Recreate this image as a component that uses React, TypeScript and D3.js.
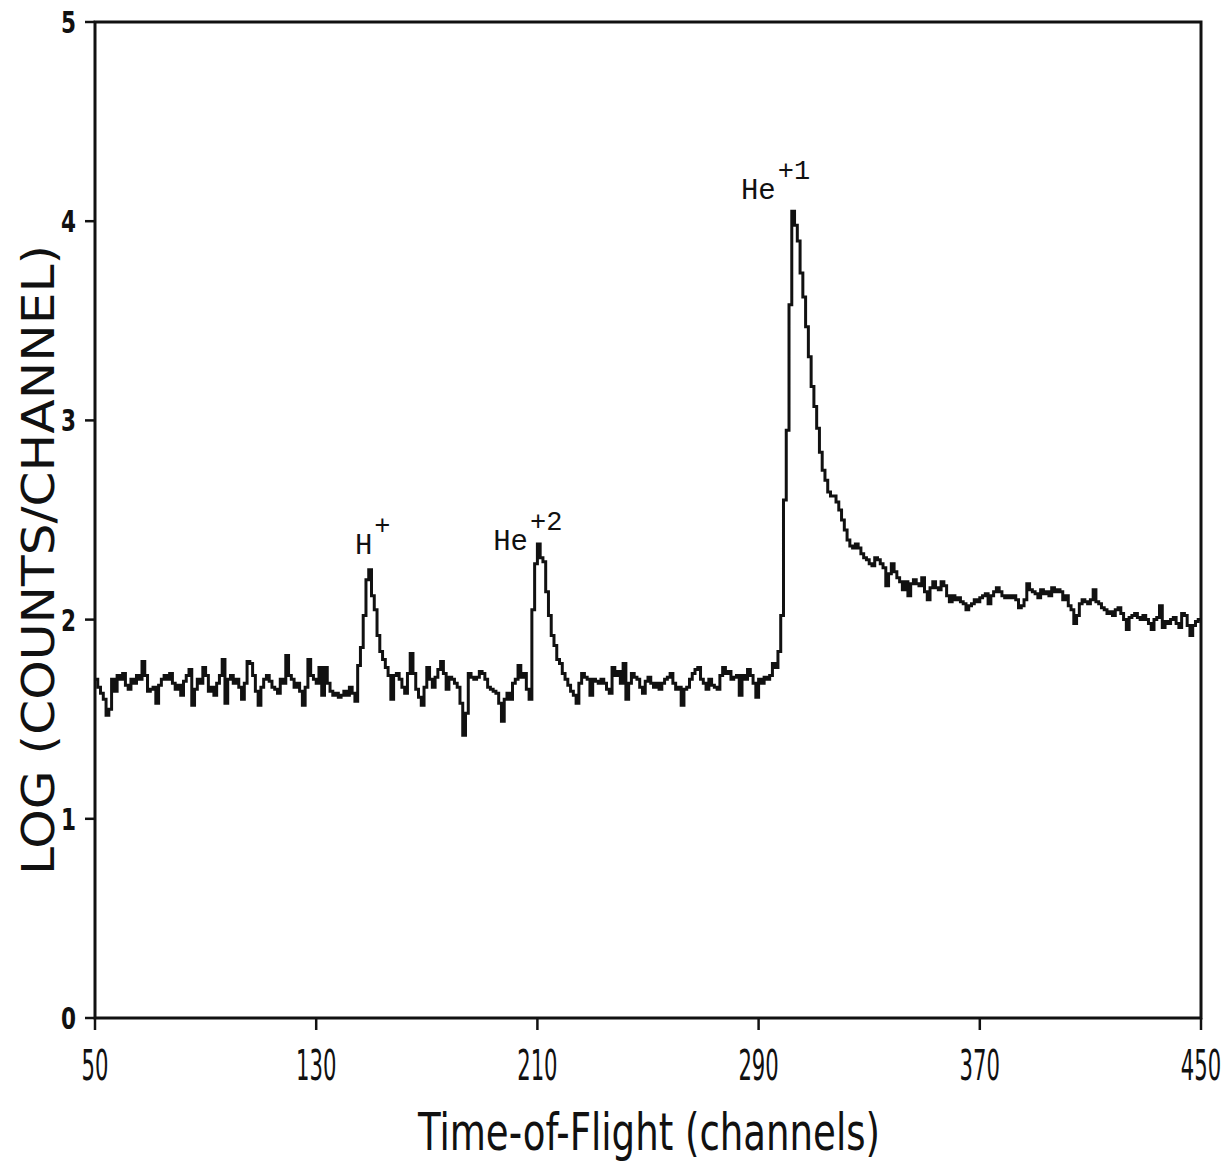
import React from "react";
import * as d3 from "d3";

const channelStart = 50;
// log10(counts/channel), one value per channel from 50 to 449
const logCounts: number[] = [
  1.70,1.66,1.63,1.60,1.52,1.55,1.70,1.64,1.72,1.70,
  1.73,1.67,1.65,1.70,1.68,1.72,1.70,1.79,1.72,1.64,
  1.65,1.66,1.58,1.67,1.70,1.72,1.70,1.73,1.68,1.65,
  1.67,1.62,1.69,1.72,1.75,1.57,1.65,1.70,1.68,1.76,
  1.72,1.64,1.66,1.62,1.68,1.72,1.80,1.58,1.70,1.72,
  1.68,1.70,1.66,1.60,1.68,1.79,1.78,1.72,1.64,1.57,
  1.66,1.70,1.72,1.69,1.66,1.65,1.63,1.70,1.68,1.82,
  1.72,1.70,1.66,1.68,1.64,1.57,1.66,1.80,1.72,1.70,
  1.68,1.76,1.62,1.76,1.68,1.64,1.62,1.63,1.61,1.62,
  1.64,1.62,1.66,1.63,1.59,1.77,1.86,2.02,2.20,2.25,
  2.12,2.05,1.92,1.84,1.80,1.76,1.72,1.60,1.72,1.73,
  1.70,1.66,1.63,1.73,1.83,1.73,1.65,1.61,1.57,1.66,
  1.76,1.70,1.66,1.71,1.75,1.79,1.73,1.65,1.71,1.70,
  1.68,1.66,1.58,1.42,1.53,1.73,1.71,1.70,1.71,1.74,
  1.73,1.70,1.66,1.65,1.64,1.63,1.58,1.49,1.60,1.63,
  1.60,1.68,1.70,1.77,1.71,1.73,1.65,1.60,2.05,2.28,
  2.38,2.31,2.29,2.14,2.02,1.92,1.87,1.80,1.78,1.73,
  1.70,1.67,1.64,1.62,1.58,1.68,1.73,1.71,1.70,1.62,
  1.70,1.69,1.68,1.70,1.68,1.65,1.63,1.76,1.72,1.74,
  1.68,1.78,1.60,1.68,1.73,1.71,1.70,1.66,1.63,1.69,
  1.71,1.68,1.66,1.68,1.65,1.68,1.70,1.71,1.73,1.68,
  1.65,1.66,1.57,1.65,1.66,1.70,1.73,1.75,1.76,1.70,
  1.68,1.65,1.70,1.67,1.66,1.65,1.72,1.76,1.73,1.74,
  1.70,1.71,1.72,1.62,1.72,1.70,1.75,1.72,1.68,1.61,
  1.70,1.68,1.71,1.70,1.72,1.78,1.76,1.84,2.02,2.60,
  2.95,3.58,4.05,3.98,3.90,3.74,3.62,3.47,3.32,3.17,
  3.07,2.96,2.84,2.75,2.70,2.64,2.62,2.62,2.59,2.55,
  2.50,2.45,2.40,2.37,2.36,2.38,2.36,2.33,2.31,2.30,
  2.28,2.27,2.31,2.30,2.28,2.26,2.17,2.23,2.28,2.24,
  2.21,2.19,2.15,2.19,2.12,2.18,2.20,2.18,2.17,2.21,
  2.14,2.10,2.16,2.19,2.16,2.15,2.19,2.17,2.12,2.09,
  2.12,2.10,2.11,2.09,2.08,2.05,2.07,2.08,2.10,2.09,
  2.11,2.12,2.13,2.08,2.12,2.14,2.16,2.14,2.12,2.11,
  2.12,2.11,2.12,2.10,2.06,2.07,2.10,2.18,2.15,2.14,
  2.13,2.11,2.15,2.13,2.14,2.12,2.16,2.14,2.15,2.14,
  2.10,2.12,2.07,2.05,1.98,2.02,2.08,2.10,2.09,2.08,
  2.10,2.15,2.09,2.08,2.06,2.05,2.03,2.04,2.02,2.05,
  2.06,2.03,2.00,1.95,2.01,2.02,2.03,2.01,2.00,2.02,
  2.00,1.98,1.95,2.00,2.01,2.07,1.96,1.99,1.98,2.00,
  2.01,1.98,1.96,2.03,2.02,1.97,1.92,1.97,1.99,2.00,
];

const xTicks = [50, 130, 210, 290, 370, 450];
const yTicks = [0, 1, 2, 3, 4, 5];

const peakLabels = [
  { base: "H", sup: "+", channel: 144, value: 2.33 },
  { base: "He", sup: "+2", channel: 194, value: 2.35 },
  { base: "He", sup: "+1", channel: 283.6, value: 4.11 },
];

const W = 1231;
const H = 1165;
const left = 95, right = 1201, top = 22, bottom = 1018;

export default function App() {
  const x = d3.scaleLinear().domain([50, 450]).range([left, right]);
  const y = d3.scaleLinear().domain([0, 5]).range([bottom, top]);

  const pts: [number, number][] = logCounts.map((v, i) => [channelStart + i, v]);
  pts.push([channelStart + logCounts.length, logCounts[logCounts.length - 1]]);
  const line = d3
    .line<[number, number]>()
    .x((d) => x(d[0]))
    .y((d) => y(d[1]))
    .curve(d3.curveStepAfter);

  const axisStroke = 3;

  return (
    <svg
      width={W}
      height={H}
      style={{ position: "absolute", left: 0, top: 0, background: "#fff" }}
    >
      <rect x={0} y={0} width={W} height={H} fill="#fff" />
      {/* frame */}
      <rect
        x={left}
        y={top}
        width={right - left}
        height={bottom - top}
        fill="none"
        stroke="#111"
        strokeWidth={axisStroke}
      />
      {/* y ticks */}
      {yTicks.map((t) => (
        <g key={"y" + t}>
          <line x1={left - 10} x2={left} y1={y(t)} y2={y(t)} stroke="#111" strokeWidth={2.5} />
          <text
            x={76}
            y={y(t) + 11}
            textAnchor="end"
            fontFamily="DejaVu Sans"
            fontSize={30}
            fontWeight="bold"
            fill="#111"
            textLength={15}
            lengthAdjust="spacingAndGlyphs"
          >
            {t}
          </text>
        </g>
      ))}
      {/* x ticks */}
      {xTicks.map((t) => (
        <g key={"x" + t}>
          <line x1={x(t)} x2={x(t)} y1={bottom} y2={bottom + 12} stroke="#111" strokeWidth={2.5} />
          <text
            transform={`translate(${x(t)},1080) scale(0.56,1)`}
            textAnchor="middle"
            fontFamily="DejaVu Sans Condensed, DejaVu Sans"
            fontSize={42}
            fill="#111"
          >
            {t}
          </text>
        </g>
      ))}
      {/* data */}
      <path d={line(pts) || ""} fill="none" stroke="#111" strokeWidth={3} strokeLinejoin="miter" />
      {/* peak labels */}
      {peakLabels.map((p) => (
        <text
          key={p.base + p.sup}
          x={x(p.channel)}
          y={y(p.value)}
          fontFamily="Liberation Mono, DejaVu Sans Mono, monospace"
          fontSize={29}
          fill="#111"
          textAnchor="start"
        >
          {p.base}
          <tspan dx={2} dy={-20} fontSize={27}>{p.sup}</tspan>
        </text>
      ))}
      {/* axis titles */}
      <text
        transform="translate(54,560) rotate(-90)"
        textAnchor="middle"
        fontFamily="DejaVu Sans"
        fontSize={45}
        fill="#111"
        textLength={630}
        lengthAdjust="spacingAndGlyphs"
      >
        LOG (COUNTS/CHANNEL)
      </text>
      <text
        x={649}
        y={1150}
        textAnchor="middle"
        fontFamily="DejaVu Sans Condensed, DejaVu Sans"
        fontSize={52}
        fill="#111"
        textLength={462}
        lengthAdjust="spacingAndGlyphs"
      >
        Time-of-Flight (channels)
      </text>
    </svg>
  );
}
